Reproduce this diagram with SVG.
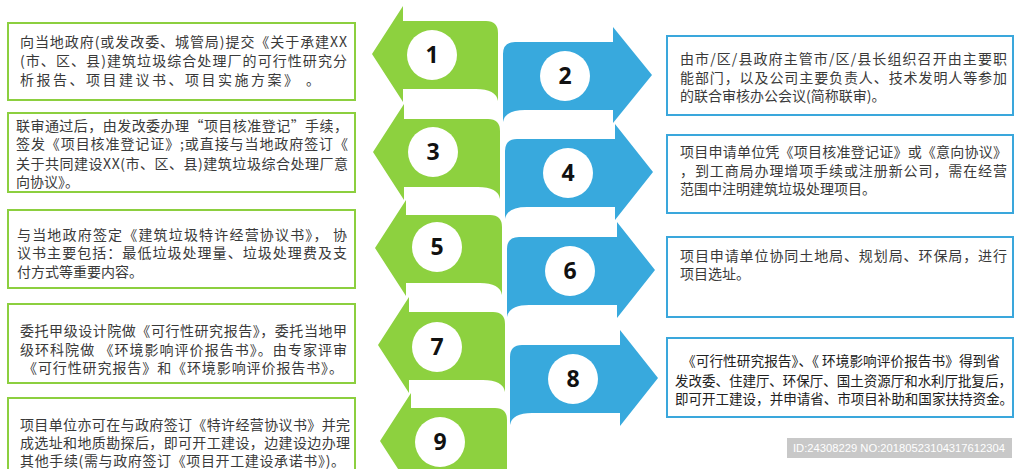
<svg xmlns="http://www.w3.org/2000/svg" width="1024" height="469" viewBox="0 0 1024 469">
<style>
.g{fill:#8dd13f}
.b{fill:#38a9dd}
.c{fill:#ffffff}
.n{font-family:"Open Sans","DejaVu Sans",sans-serif;font-weight:700;font-size:23px;fill:#111;text-anchor:middle}
.gb{fill:#fff;stroke:#8ccf3f;stroke-width:2}
.bb{fill:#fff;stroke:#3aa7dc;stroke-width:2}
.t{font-family:"Noto Sans CJK SC","Noto Sans CJK TC",sans-serif;font-size:14px;fill:#3a3a3a}
.t8{font-family:"Noto Sans CJK SC","Noto Sans CJK TC",sans-serif;font-size:14px;fill:#222}
.id{font-family:"Liberation Sans",Arial,sans-serif;font-size:11.5px;fill:#fff}
</style>
<rect width="1024" height="469" fill="#fff"/>
<g id="connectors">
<path class="b" d="M652,75 L613,27 L613,42 L515,42 Q503,42 503,54 L503,122 Q505,110 525,110 L613,110 L613,123 Z"/>
<path class="b" d="M653,172 L615,124 L615,139 L517,139 Q505,139 505,151 L505,219 Q507,207 527,207 L615,207 L615,220 Z"/>
<path class="b" d="M655,270 L617,222 L617,237 L519,237 Q507,237 507,249 L507,317 Q509,305 529,305 L617,305 L617,318 Z"/>
<path class="b" d="M658,378 L620,330 L620,345 L522,345 Q510,345 510,357 L510,425 Q512,413 532,413 L620,413 L620,426 Z"/>
<path class="g" d="M372,54 L403,6 L403,21 L486,21 Q498,21 498,33 L498,101 Q496,89 476,89 L403,89 L403,102 Z"/>
<path class="g" d="M373,152 L404,104 L404,119 L488,119 Q500,119 500,131 L500,199 Q498,187 478,187 L404,187 L404,200 Z"/>
<path class="g" d="M375,248 L406,200 L406,215 L490,215 Q502,215 502,227 L502,295 Q500,283 480,283 L406,283 L406,296 Z"/>
<path class="g" d="M378,345 L409,297 L409,312 L493,312 Q505,312 505,324 L505,392 Q503,380 483,380 L409,380 L409,393 Z"/>
<path class="g" d="M380,441 L411,393 L411,408 L495,408 Q507,408 507,420 L507,488 Q505,476 485,476 L411,476 L411,489 Z"/>
</g>
<g id="n1"><circle class="c" cx="432" cy="55" r="25"/><text class="n" x="432" y="63">1</text></g>
<g id="n3"><circle class="c" cx="433" cy="152" r="25"/><text class="n" x="433" y="160">3</text></g>
<g id="n5"><circle class="c" cx="437" cy="247" r="25"/><text class="n" x="437" y="255">5</text></g>
<g id="n7"><circle class="c" cx="437" cy="347" r="25"/><text class="n" x="437" y="355">7</text></g>
<g id="n9"><circle class="c" cx="440" cy="442" r="25"/><text class="n" x="440" y="450">9</text></g>
<g id="n2"><circle class="c" cx="565" cy="76" r="25"/><text class="n" x="565" y="84">2</text></g>
<g id="n4"><circle class="c" cx="568" cy="173" r="25"/><text class="n" x="568" y="181">4</text></g>
<g id="n6"><circle class="c" cx="570" cy="271" r="25"/><text class="n" x="570" y="279">6</text></g>
<g id="n8"><circle class="c" cx="573" cy="379" r="25"/><text class="n" x="573" y="387">8</text></g>
<g id="box1"><rect class="gb" x="8" y="23" width="347" height="77"/>
<text class="t" x="20" y="47" textLength="327" lengthAdjust="spacing">向当地政府(或发改委、城管局)提交《关于承建XX</text>
<text class="t" x="20" y="66" textLength="327" lengthAdjust="spacing">(市、区、县)建筑垃圾综合处理厂的可行性研究分</text>
<text class="t" x="20" y="85" textLength="300" lengthAdjust="spacing">析报告、项目建议书、项目实施方案》 。</text></g>
<g id="box3"><rect class="gb" x="8" y="113" width="347" height="79"/>
<text class="t" x="16" y="131" textLength="332" lengthAdjust="spacing">联审通过后，由发改委办理“项目核准登记”手续，</text>
<text class="t" x="16" y="149" textLength="332" lengthAdjust="spacing">签发《项目核准登记证》;或直接与当地政府签订《</text>
<text class="t" x="16" y="169" textLength="332" lengthAdjust="spacing">关于共同建设XX(市、区、县)建筑垃圾综合处理厂意</text>
<text class="t" x="16" y="187">向协议》。</text></g>
<g id="box5"><rect class="gb" x="8" y="210" width="347" height="78"/>
<text class="t" x="17" y="240" textLength="330" lengthAdjust="spacing">与当地政府签定《建筑垃圾特许经营协议书》， 协</text>
<text class="t" x="17" y="258" textLength="330" lengthAdjust="spacing">议书主要包括：最低垃圾处理量、垃圾处理费及支</text>
<text class="t" x="17" y="277">付方式等重要内容。</text></g>
<g id="box7"><rect class="gb" x="8" y="304" width="347" height="79"/>
<text class="t" x="20" y="336" textLength="327" lengthAdjust="spacing">委托甲级设计院做《可行性研究报告》，委托当地甲</text>
<text class="t" x="20" y="355" textLength="327" lengthAdjust="spacing">级环科院做 《环境影响评价报告书》。由专家评审</text>
<text class="t" x="23" y="373" textLength="320" lengthAdjust="spacing">《可行性研究报告》和《环境影响评价报告书》。</text></g>
<g id="box9"><rect class="gb" x="8" y="398" width="347" height="80"/>
<text class="t" x="20" y="430" textLength="330" lengthAdjust="spacing">项目单位亦可在与政府签订《特许经营协议书》并完</text>
<text class="t" x="20" y="448" textLength="330" lengthAdjust="spacing">成选址和地质勘探后，即可开工建设，边建设边办理</text>
<text class="t" x="20" y="466" textLength="325" lengthAdjust="spacing">其他手续(需与政府签订《项目开工建设承诺书》)。</text></g>
<g id="box2"><rect class="bb" x="667" y="36" width="346" height="79"/>
<text class="t" x="680" y="64" textLength="327" lengthAdjust="spacing">由市/区/县政府主管市/区/县长组织召开由主要职</text>
<text class="t" x="680" y="83" textLength="327" lengthAdjust="spacing">能部门，以及公司主要负责人、技术发明人等参加</text>
<text class="t" x="680" y="101">的联合审核办公会议(简称联审)。</text></g>
<g id="box4"><rect class="bb" x="667" y="135" width="346" height="78"/>
<text class="t" x="680" y="157" textLength="327" lengthAdjust="spacing">项目申请单位凭《项目核准登记证》或《意向协议》</text>
<text class="t" x="680" y="176" textLength="327" lengthAdjust="spacing">，到工商局办理增项手续或注册新公司，需在经营</text>
<text class="t" x="680" y="194">范围中注明建筑垃圾处理项目。</text></g>
<g id="box6"><rect class="bb" x="667" y="237" width="346" height="80"/>
<text class="t" x="680" y="261" textLength="327" lengthAdjust="spacing">项目申请单位协同土地局、规划局、环保局，进行</text>
<text class="t" x="680" y="279">项目选址。</text></g>
<g id="box8"><rect class="bb" x="667" y="338" width="346" height="79"/>
<text class="t8" x="682" y="366" textLength="318" lengthAdjust="spacingAndGlyphs">《可行性研究报告》、《 环境影响评价报告书》得到省</text>
<text class="t8" x="675" y="386" textLength="337" lengthAdjust="spacingAndGlyphs">发改委、住建厅、环保厅、国土资源厅和水利厅批复后，</text>
<text class="t8" x="675" y="404" textLength="338" lengthAdjust="spacingAndGlyphs">即可开工建设，并申请省、市项目补助和国家扶持资金。</text></g>
<g id="idtag"><rect x="787" y="438" width="225" height="20" fill="#c8c8c8"/>
<text class="id" x="793" y="452" textLength="212" lengthAdjust="spacingAndGlyphs">ID:24308229 NO:20180523104317612304</text></g>
</svg>
